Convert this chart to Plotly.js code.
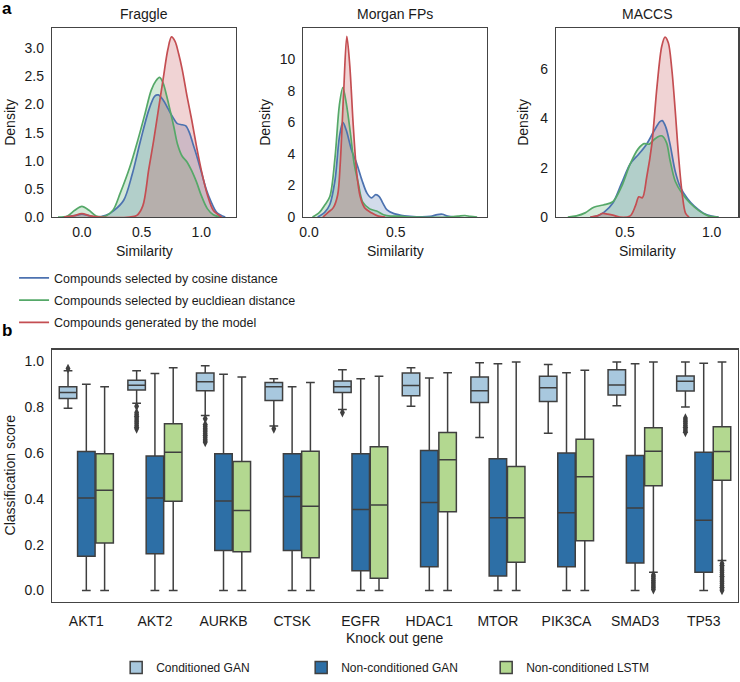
<!DOCTYPE html>
<html><head><meta charset="utf-8">
<script src="https://cdn.plot.ly/plotly-3.0.1.min.js"></script>
<style>html,body{margin:0;padding:0;background:#fff}#chart{width:740px;height:682px}</style>
</head><body><div id="chart"></div>
<script>
// ---------- Panel a: KDE curves ----------
var fraggleCosX = [-0.15,-0.05,0.0,0.05,0.12,0.2,0.27,0.35,0.42,0.49,0.56,0.61,0.64,0.68,0.72,0.76,0.8,0.84,0.87,0.9,0.93,0.96,1.0,1.04,1.08,1.13,1.2];
var fraggleCosY = [0,0.03,0.05,0.03,0.0,0.03,0.12,0.3,0.75,1.35,1.9,2.15,2.17,2.08,1.93,1.78,1.66,1.64,1.62,1.5,1.3,1.1,0.8,0.5,0.28,0.08,0];
var fraggleEucX = [-0.2,-0.12,-0.06,0.0,0.06,0.12,0.2,0.26,0.32,0.4,0.47,0.53,0.58,0.62,0.65,0.68,0.71,0.74,0.77,0.8,0.84,0.88,0.92,0.96,1.0,1.05,1.1,1.16];
var fraggleEucY = [0,0.02,0.12,0.19,0.12,0.02,0.02,0.12,0.42,0.88,1.38,1.85,2.25,2.42,2.48,2.38,2.15,1.88,1.6,1.3,1.08,0.98,0.82,0.62,0.38,0.15,0.04,0];
var fraggleGenX = [-0.15,-0.07,0.0,0.07,0.15,0.4,0.46,0.51,0.56,0.6,0.64,0.68,0.72,0.75,0.78,0.81,0.84,0.88,0.92,0.96,1.0,1.05,1.1,1.17];
var fraggleGenY = [0,0.02,0.06,0.02,0,0,0.03,0.2,0.85,1.35,1.9,2.45,2.98,3.2,3.12,2.9,2.62,2.15,1.72,1.25,0.83,0.4,0.12,0];

var morganCosX = [0.05,0.09,0.12,0.15,0.175,0.195,0.215,0.245,0.275,0.305,0.335,0.36,0.385,0.405,0.425,0.45,0.49,0.55,0.62,0.7,0.74,0.77,0.8,0.85];
var morganCosY = [0,0.3,0.8,2.35,5.06,6.0,5.5,4.25,3.4,2.35,1.5,1.22,1.42,1.3,0.9,0.45,0.22,0.08,0.02,0.04,0.16,0.18,0.06,0];
var morganEucX = [0.02,0.06,0.09,0.12,0.15,0.175,0.195,0.215,0.24,0.26,0.285,0.31,0.35,0.39,0.43,0.47,0.51,0.56,0.62,0.8,0.86,0.9,0.93,0.97];
var morganEucY = [0,0.3,0.75,1.3,3.8,7.1,8.2,7.2,5.2,3.4,2.1,0.95,0.52,0.38,0.15,0.06,0.06,0.02,0,0,0.06,0.1,0.04,0];
var morganGenX = [0.08,0.11,0.14,0.165,0.18,0.2,0.218,0.235,0.255,0.275,0.295,0.32,0.36,0.4,0.44];
var morganGenY = [0,0.3,0.6,1.4,3.4,8.0,11.45,9.6,5.8,2.8,1.3,0.6,0.27,0.06,0];

var maccsCosX = [0.3,0.34,0.38,0.43,0.48,0.53,0.58,0.625,0.665,0.7,0.715,0.735,0.76,0.79,0.82,0.86,0.9,0.95,1.0,1.04];
var maccsCosY = [0,0.05,0.2,0.57,1.36,2.15,2.55,2.95,3.45,3.85,3.9,3.65,2.95,1.85,1.2,0.75,0.44,0.17,0.04,0];
var maccsEucX = [0.17,0.22,0.27,0.32,0.375,0.43,0.48,0.53,0.575,0.61,0.64,0.67,0.7,0.715,0.74,0.76,0.79,0.83,0.875,0.93,0.98,1.04];
var maccsEucY = [0,0.05,0.17,0.4,0.49,0.62,1.23,2.15,2.75,2.97,2.95,3.15,3.28,3.28,3.0,2.3,1.45,0.95,0.57,0.24,0.05,0];
var maccsGenX = [0.3,0.34,0.37,0.4,0.43,0.47,0.53,0.56,0.58,0.6,0.625,0.655,0.685,0.712,0.731,0.75,0.77,0.79,0.81,0.83,0.85,0.87];
var maccsGenY = [0,0.05,0.15,0.12,0.08,0,0.05,0.45,0.82,0.78,1.6,2.95,5.3,6.9,7.28,7.05,6.0,4.3,2.4,0.95,0.15,0];

var seriesNamesShown = ['Compounds selected by cosine distance','Compounds selected by eucldiean distance','Compounds generated by the model'];

// ---------- Panel b: box statistics ----------
var genes = ['AKT1','AKT2','AURKB','CTSK','EGFR','HDAC1','MTOR','PIK3CA','SMAD3','TP53'];
var boxNames = ['Conditioned GAN','Non-conditioned GAN','Non-conditioned LSTM'];

var condQ1  = [0.837,0.874,0.871,0.829,0.863,0.849,0.820,0.824,0.853,0.870];
var condMed = [0.863,0.895,0.910,0.889,0.889,0.894,0.871,0.884,0.896,0.913];
var condQ3  = [0.889,0.917,0.948,0.907,0.914,0.949,0.931,0.934,0.963,0.936];
var condLo  = [0.795,0.817,0.763,0.717,0.789,0.803,0.667,0.686,0.806,0.800];
var condHi  = [0.958,0.958,0.980,0.924,0.963,0.971,0.993,0.986,0.996,0.996];
var condOut = [
  [0.968],
  [0.803,0.776,0.768,0.760,0.752,0.744,0.736,0.728,0.720,0.712,0.705],
  [0.749,0.724,0.716,0.708,0.700,0.692,0.684,0.676,0.668,0.660,0.652,0.646],
  [0.705],
  [0.776],
  [],[],[],[],
  [0.752,0.744,0.736,0.728,0.720,0.712,0.704,0.696,0.690]
];

var ganQ1  = [0.149,0.160,0.174,0.174,0.086,0.103,0.063,0.103,0.120,0.079];
var ganMed = [0.403,0.403,0.390,0.410,0.353,0.384,0.317,0.339,0.360,0.306];
var ganQ3  = [0.606,0.586,0.596,0.596,0.596,0.610,0.574,0.600,0.589,0.603];
var ganLo  = [0,0,0,0,0,0,0,0,0,0];
var ganHi  = [0.900,0.946,0.943,0.889,0.924,0.927,0.989,0.950,0.989,0.991];
var ganOut = [[],[],[],[],[],[],[],[],[],[]];

var lstmQ1  = [0.207,0.389,0.169,0.143,0.053,0.343,0.123,0.217,0.457,0.481];
var lstmMed = [0.437,0.603,0.349,0.367,0.373,0.570,0.317,0.496,0.607,0.606];
var lstmQ3  = [0.596,0.727,0.563,0.607,0.627,0.689,0.541,0.660,0.710,0.714];
var lstmLo  = [0,0,0,0,0,0,0,0,0.079,0.131];
var lstmHi  = [0.889,0.971,0.931,0.907,0.934,0.950,0.997,0.960,0.997,0.997];
var lstmOut = [[],[],[],[],[],[],[],[],
  [0.068,0.060,0.052,0.044,0.036,0.028,0.020,0.012,0.004],
  [0.118,0.110,0.102,0.094,0.086,0.078,0.070,0.062,0.054,0.046,0.038,0.030,0.022,0.014,0.006,0.0]
];

// ---------- styling ----------
var lineCols = ['#4c72b0','#55a868','#c44e52'];
var fillCols = ['rgba(76,114,176,0.25)','rgba(85,168,104,0.25)','rgba(196,78,82,0.25)'];
var boxCols = ['#a8c8de','#2d6fa6','#b3d890'];
var edge = '#3f3f3f';

var traces = [];
var kdeSets = [
  {xa:'x', ya:'y', xs:[fraggleCosX,fraggleEucX,fraggleGenX], ys:[fraggleCosY,fraggleEucY,fraggleGenY]},
  {xa:'x2', ya:'y2', xs:[morganCosX,morganEucX,morganGenX], ys:[morganCosY,morganEucY,morganGenY]},
  {xa:'x3', ya:'y3', xs:[maccsCosX,maccsEucX,maccsGenX], ys:[maccsCosY,maccsEucY,maccsGenY]}
];
kdeSets.forEach(function(s, si){
  for (var k=0;k<3;k++){
    traces.push({type:'scatter', mode:'lines', x:s.xs[k], y:s.ys[k], xaxis:s.xa, yaxis:s.ya,
      fill:'tozeroy', fillcolor:fillCols[k], line:{width:0, shape:'spline', smoothing:0.9, color:lineCols[k]},
      showlegend:false, hoverinfo:'skip'});
  }
  for (var k2=0;k2<3;k2++){
    traces.push({type:'scatter', mode:'lines', x:s.xs[k2], y:s.ys[k2], xaxis:s.xa, yaxis:s.ya,
      name:seriesNamesShown[k2], legend:'legend', legendgroup:'g'+k2,
      line:{width:1.7, shape:'spline', smoothing:0.9, color:lineCols[k2]},
      showlegend: si===0});
  }
});

var offsets = [-0.2667, 0, 0.2667];
var boxStats = [
  [condQ1,condMed,condQ3,condLo,condHi,condOut],
  [ganQ1,ganMed,ganQ3,ganLo,ganHi,ganOut],
  [lstmQ1,lstmMed,lstmQ3,lstmLo,lstmHi,lstmOut]
];
boxStats.forEach(function(st, b){
  traces.push({type:'box', name:boxNames[b], legend:'legend2',
    x: genes.map(function(g,i){return i+offsets[b];}),
    q1:st[0], median:st[1], q3:st[2], lowerfence:st[3], upperfence:st[4],
    width:0.255, whiskerwidth:0.5, boxpoints:false,
    fillcolor:boxCols[b], line:{color:edge, width:1.5},
    xaxis:'x4', yaxis:'y4', hoverinfo:'y'});
});
boxStats.forEach(function(st, b){
  var xs=[], ys=[];
  st[5].forEach(function(vals,i){ vals.forEach(function(v){ xs.push(i+offsets[b]); ys.push(v); }); });
  traces.push({type:'scatter', mode:'markers', x:xs, y:ys, xaxis:'x4', yaxis:'y4',
    marker:{symbol:'diamond-tall', size:7, color:edge}, showlegend:false, hoverinfo:'skip'});
});

function ax(extra){
  var base = {showline:true, mirror:true, linecolor:'#444', linewidth:1.3, showgrid:false,
    zeroline:false, ticks:'', tickfont:{size:14, color:'#1a1a1a'}, fixedrange:true};
  for (var k in extra) base[k]=extra[k];
  return base;
}
function ann(text, x, y, opts){
  var a = {text:text, x:x, y:y, xref:'paper', yref:'paper', xanchor:'center', yanchor:'middle',
    showarrow:false, font:{size:14, color:'#1a1a1a'}};
  for (var k in (opts||{})) a[k]=opts[k];
  return a;
}

var layout = {
  width:740, height:682, margin:{l:0,r:0,t:0,b:0},
  paper_bgcolor:'#fff', plot_bgcolor:'#fff',
  font:{family:'Liberation Sans, Arial, Helvetica, sans-serif', size:14, color:'#1a1a1a'},
  showlegend:true,
  xaxis: ax({domain:[0.0703,0.3189], range:[-0.25,1.29], tickvals:[0,0.5,1], tickformat:'.1f', anchor:'y', ticklabelstandoff:2}),
  yaxis: ax({domain:[0.676,0.9575], range:[0,3.35], dtick:0.5, tick0:0, tickformat:'.1f', anchor:'x', ticklabelstandoff:4}),
  xaxis2: ax({domain:[0.4099,0.6577], range:[-0.033,1.025], tickvals:[0,0.5], tickformat:'.1f', anchor:'y2', ticklabelstandoff:2}),
  yaxis2: ax({domain:[0.676,0.9575], range:[0,11.95], dtick:2, tick0:0, anchor:'x2', ticklabelstandoff:4}),
  xaxis3: ax({domain:[0.7514,0.9977], range:[0.102,1.154], tickvals:[0.5,1], tickformat:'.1f', anchor:'y3', ticklabelstandoff:2}),
  yaxis3: ax({domain:[0.676,0.9575], range:[0,7.63], dtick:2, tick0:0, anchor:'x3', ticklabelstandoff:4}),
  xaxis4: ax({domain:[0.0703,0.9973], range:[-0.5,9.5], tickvals:genes.map(function(g,i){return i;}), ticktext:genes, anchor:'y4', ticklabelstandoff:6}),
  yaxis4: ax({domain:[0.1016,0.478], range:[-0.05,1.05], dtick:0.2, tick0:0, tickformat:'.1f', anchor:'x4', ticklabelstandoff:4}),
  boxmode:'overlay',
  legend:{x:0.019, xanchor:'left', y:0.607, yanchor:'top', font:{size:12.5, color:'#1a1a1a'}, bgcolor:'rgba(0,0,0,0)', itemwidth:30, tracegroupgap:3},
  legend2:{orientation:'h', x:0.157, xanchor:'left', y:0.003, yanchor:'middle', font:{size:12, color:'#1a1a1a'}, bgcolor:'rgba(0,0,0,0)', entrywidth:140, entrywidthmode:'pixels'},
  annotations:[
    ann('<b>a</b>', 7/740, 1-9/682, {font:{size:17, color:'#000'}}),
    ann('<b>b</b>', 7/740, 1-336/682, {font:{size:17, color:'#000'}}),
    ann('Fraggle', 144/740, 1-14/682),
    ann('Morgan FPs', 395/740, 1-14/682),
    ann('MACCS', 647/740, 1-14/682),
    ann('Similarity', 144/740, 1-255/682),
    ann('Similarity', 395/740, 1-255/682),
    ann('Similarity', 647/740, 1-255/682),
    ann('Density', 10/740, 1-125/682, {textangle:-90}),
    ann('Density', 265/740, 1-125/682, {textangle:-90}),
    ann('Density', 523/740, 1-125/682, {textangle:-90}),
    ann('Classification score', 10/740, 1-484/682, {textangle:-90}),
    ann('Knock out gene', 395/740, 1-649/682)
  ]
};

Plotly.newPlot('chart', traces, layout, {displayModeBar:false, staticPlot:true});
</script></body></html>
